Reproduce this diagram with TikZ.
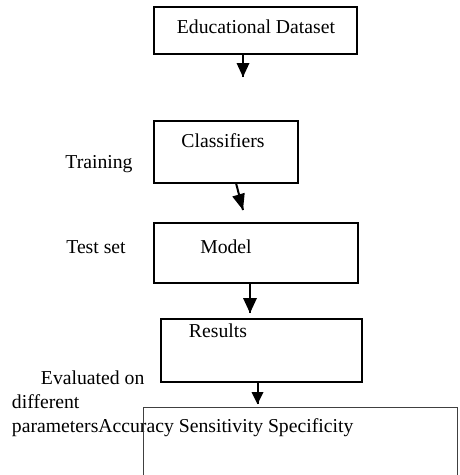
\documentclass[tikz,border=0pt]{standalone}
\usepackage{fontspec}
\setmainfont{Liberation Serif}
\begin{document}
\begin{tikzpicture}[x=1pt,y=-1pt]
\tikzstyle{every node}+=[inner sep=0pt, outer sep=0pt]
\tikzstyle{box}=[draw=black, line width=2pt]
\tikzstyle{lbl}=[font=\fontsize{19.7pt}{24pt}\selectfont]
\useasboundingbox (0,0) rectangle (459,475);
\clip (0,0) rectangle (459,475);
\node [box, minimum width=203pt, minimum height=47pt] (dataset) at (255.5,30.5) {};
\node [lbl, anchor=base] (datasettxt) at (256,33) {Educational Dataset};
\node [box, minimum width=144pt, minimum height=62pt] (classifiers) at (226,152) {};
\node [lbl, anchor=base] (classifierstxt) at (223,147) {Classifiers};
\node [lbl, anchor=base] (training) at (99,168) {Training};
\node [box, minimum width=204pt, minimum height=60pt] (model) at (256,253) {};
\node [lbl, anchor=base] (modeltxt) at (226,253) {Model};
\node [lbl, anchor=base] (testset) at (96,253) {Test set};
\node [box, minimum width=201pt, minimum height=63pt] (results) at (261.5,350.5) {};
\node [lbl, anchor=base] (resultstxt) at (218,337) {Results};
\node [lbl, anchor=base west] (evaluated) at (41,384) {Evaluated on};
\node [lbl, anchor=base west] (different) at (12,408) {different};
\node [lbl, anchor=base west] (params) at (12,432) {parametersAccuracy Sensitivity Specificity};
\node [draw=black!75, line width=1pt, minimum width=314pt, minimum height=90pt] (measures) at (300,452) {};
\coordinate (a1) at (243,77);
\coordinate (a2s) at (236,190);
\coordinate (a2) at (243,210);
\coordinate (a3) at (250,313);
\coordinate (a4) at (257.5,404);
\draw [black, line width=2pt] (dataset.south -| a1) -- (a1);
\fill [black] (a1) -- ++(-6.5,-14) -- ++(13,0) -- cycle;
\draw [black, line width=2pt] (classifiers.south -| a2s) -- (a2);
\fill [black] (a2) -- ++(-10.7,-13.5) -- ++(12.4,-3.7) -- cycle;
\draw [black, line width=2pt] (model.south -| a3) -- (a3);
\fill [black] (a3) -- ++(-7,-15) -- ++(14,0) -- cycle;
\draw [black, line width=2pt] (results.south -| a4) -- (a4);
\fill [black] (a4) -- ++(-6,-12) -- ++(12,0) -- cycle;
\end{tikzpicture}
\end{document}
